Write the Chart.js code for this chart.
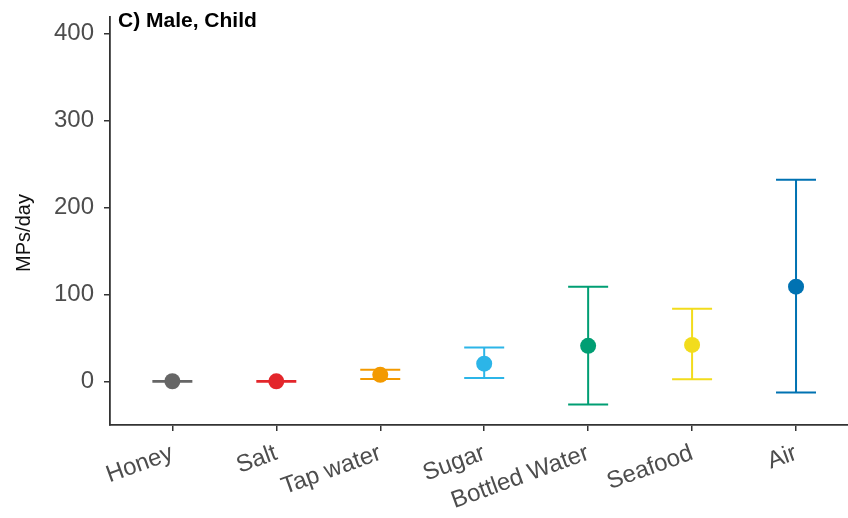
<!DOCTYPE html>
<html><head><meta charset="utf-8">
<script src="https://cdn.jsdelivr.net/npm/chart.js@4/dist/chart.umd.min.js"></script>
<style>html,body{margin:0;padding:0;background:#fff;} canvas{display:block;}</style>
</head><body>
<canvas id="c" width="848" height="518"></canvas>
<script>
const categories = ["Honey", "Salt", "Tap water", "Sugar", "Bottled Water", "Seafood", "Air"];
const means  = [0.3, 0.2, 7.7, 20.5, 41, 42, 109];
const lowers = [-0.2, -0.2, 3, 3.9, -26.5, 2.7, -12.5];
const uppers = [0.6, 0.6, 13.4, 39, 109, 83.5, 232];
const colors = ["#666666", "#E3262B", "#F39A00", "#2CB5E8", "#009E73", "#F2DC1C", "#0072B2"];
const yTicks = [0, 100, 200, 300, 400];
const titleText = "C) Male, Child";
const yTitle = "MPs/day";

const FONT = '"Liberation Sans", Arial, sans-serif';

const errorBars = {
  id: 'errorBars',
  beforeDatasetsDraw(chart) {
    const {ctx, scales: {x, y}} = chart;
    ctx.save();
    ctx.lineWidth = 2;
    categories.forEach((c, i) => {
      const px = x.getPixelForValue(i + 1);
      const lo = y.getPixelForValue(lowers[i]);
      const hi = y.getPixelForValue(uppers[i]);
      ctx.strokeStyle = colors[i];
      ctx.beginPath();
      ctx.moveTo(px, lo); ctx.lineTo(px, hi);
      ctx.moveTo(px - 20, lo); ctx.lineTo(px + 20, lo);
      ctx.moveTo(px - 20, hi); ctx.lineTo(px + 20, hi);
      ctx.stroke();
    });
    ctx.restore();
  },
  afterDraw(chart) {
    const ctx = chart.ctx;
    const area = chart.chartArea;
    ctx.save();
    ctx.font = 'bold 21px ' + FONT;
    ctx.fillStyle = '#000';
    ctx.textBaseline = 'alphabetic';
    ctx.textAlign = 'left';
    ctx.fillText(titleText, area.left + 8, 27);
    ctx.translate(30, 233);
    ctx.rotate(-Math.PI / 2);
    ctx.font = '20px ' + FONT;
    ctx.fillStyle = '#111';
    ctx.textAlign = 'center';
    ctx.fillText(yTitle, 0, 0);
    ctx.restore();
  }
};

new Chart(document.getElementById('c'), {
  type: 'scatter',
  data: {
    datasets: [{
      data: means.map((m, i) => ({x: i + 1, y: m})),
      pointRadius: 8,
      pointHoverRadius: 8,
      pointBackgroundColor: colors,
      pointBorderColor: colors,
      pointBorderWidth: 0
    }]
  },
  options: {
    responsive: false,
    animation: false,
    layout: {autoPadding: false, padding: {left: 0, top: 17, bottom: 0, right: 0}},
    plugins: {legend: {display: false}, tooltip: {enabled: false}, title: {display: false}},
    scales: {
      x: {
        type: 'linear',
        min: 0.4, max: 7.5,
        afterBuildTicks(s) { s.ticks = categories.map((c, i) => ({value: i + 1})); },
        afterFit(s) { s.height = 93; s.paddingLeft = 0; s.paddingRight = 0; },
        ticks: {
          autoSkip: false,
          minRotation: 20, maxRotation: 20,
          color: '#4d4d4d',
          font: {size: 24, family: FONT},
          padding: 8,
          callback: (v) => categories[v - 1]
        },
        grid: {drawOnChartArea: false, drawTicks: true, tickLength: 6, color: '#333', lineWidth: 1.5},
        border: {display: true, color: '#333', width: 1.8}
      },
      y: {
        min: -50, max: 419,
        afterBuildTicks(s) { s.ticks = yTicks.map(v => ({value: v})); },
        afterFit(s) { s.width = 110; s.paddingTop = 0; s.paddingBottom = 0; },
        ticks: {color: '#4d4d4d', font: {size: 24, family: FONT}, padding: 10},
        grid: {drawOnChartArea: false, drawTicks: true, tickLength: 6, color: '#333', lineWidth: 1.5},
        border: {display: true, color: '#333', width: 1.8},
        title: {display: false}
      }
    }
  },
  plugins: [errorBars]
});
</script>
</body></html>
